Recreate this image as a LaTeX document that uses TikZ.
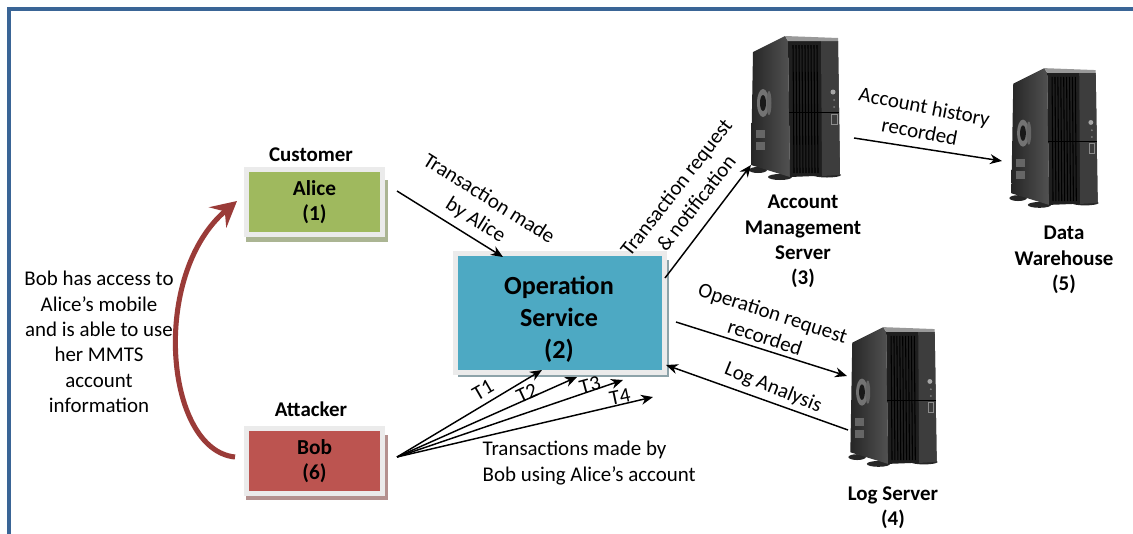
\documentclass[tikz,border=0pt]{standalone}
\usepackage{fontspec}
\setmainfont{Carlito}
\usetikzlibrary{arrows.meta,positioning,calc}
\definecolor{frameblue}{HTML}{3A6596}
\definecolor{boxedge}{HTML}{EBEBEB}
\definecolor{alicegreen}{HTML}{9FB95E}
\definecolor{bobred}{HTML}{BC5450}
\definecolor{opblue}{HTML}{4DA9C3}
\definecolor{curvered}{HTML}{9A3B38}
\tikzset{
	actor/.style={draw=boxedge, line width=4pt, align=center, font=\fontsize{16}{19}\selectfont\bfseries, text=black, anchor=center},
	caption/.style={font=\fontsize{15.7}{19}\selectfont},
	heading/.style={font=\fontsize{15.7}{19}\selectfont\bfseries, align=center},
	link/.style={-{Stealth[length=9pt,width=7.5pt]}, line width=1.1pt}
}
% one server tower, drawn around a centre
\newcommand{\drawtower}[2]{
	\begin{scope}[shift={(#1)}, scale=#2]
		%feet
		\fill[black!85] (-37,63) ellipse (9 and 3);
		\fill[black!85] (-15,70) ellipse (12 and 3);
		\fill[black!85] (32,68) ellipse (14 and 2.5);
		%side
		\shade[left color=black!85, right color=black!68] (-42,-55) -- (-10,-71) -- (-7,-66) -- (-5,70) -- (-44,58) -- cycle;
		%front
		\fill[black!88] (-7,-66) -- (43,-66) -- (45,68) -- (-5,70) -- cycle;
		\fill[black!76] (26,-66) -- (43,-66) -- (45,68) -- (27,69) -- cycle;
		%top edge
		\fill[black!40] (-10,-71) -- (43,-69) -- (43,-66) -- (-7,-66) -- cycle;
		%vents
		\foreach \v in {-2,1,...,24}
		\draw[black, line width=.8pt] (\v,-62) -- (\v+1,66);
		\draw[black, line width=.6pt] (-6,5) -- (44,5);
		%fan and grilles
		\fill[black!55] (-32,-4) ellipse (6 and 14);
		\fill[black!90] (-32,-4) ellipse (3 and 8);
		\fill[black!60] (-26,-4) ellipse (2.5 and 12);
		\fill[black!60] (-39,23) rectangle (-30,31);
		\fill[black!60] (-39,35) rectangle (-30,43);
		%buttons
		\fill[black!35] (38,-15) circle (2.5);
		\fill[black!50] (39,-7) circle (1);
		\fill[black!50] (39,0) circle (1);
		\draw[black!45, line width=.6pt] (36,7) rectangle (42,17);
	\end{scope}
}
\begin{document}
\begin{tikzpicture}[x=.75pt, y=-.75pt, every node/.style={text=black}]
	\useasboundingbox (0,0) rectangle (1133,533);
	\fill[white] (0,0) rectangle (1133,533);
	%frame
	\draw[frameblue, line width=2.6pt] (9,540) -- (9,9) -- (1140,9);
	%shadows
	\fill[alicegreen!50!gray!75] (246,180) rectangle (388,242);
	\fill[bobred!45!gray!75] (246,435) rectangle (388,500);
	\fill[opblue!30!gray!80] (458,260) rectangle (669,377);
	%boxes
	\node[actor, fill=alicegreen, minimum width=102.2pt, minimum height=49pt] (alice) at (314.5,202) {Alice\\(1)};
	\node[actor, fill=bobred, minimum width=102.2pt, minimum height=49pt] (bob) at (314.5,461) {Bob\\(6)};
	\node[actor, fill=opblue, minimum width=156.8pt, minimum height=89.5pt] (service) at (560,313) {};
	\node[align=center, font=\fontsize{19.6}{24}\selectfont\bfseries] (servicetext) at (559,319) {Operation\\Service\\(2)};
	\node[heading] (customer) at (311,155) {Customer};
	\node[heading] (attacker) at (311,409) {Attacker};
	%servers
	\drawtower{795,107}{1}
	\drawtower{1054,137}{.97}
	\drawtower{893,396}{.97}
	\node[heading] (acctext) at (803,241.5) {Account\\Management\\Server\\(3)};
	\node[heading] (dwtext) at (1064,260) {Data\\Warehouse\\(5)};
	\node[heading] (logtext) at (893,508) {Log Server\\(4)};
	%free line ends
	\coordinate (aliceout) at (397,191);
	\coordinate (servicein) at (503,257);
	\coordinate (serviceout) at (665,278);
	\coordinate (accin) at (751,165);
	\coordinate (accout) at (854,138);
	\coordinate (dwin) at (1002,161);
	\coordinate (serviceout2) at (676,322);
	\coordinate (login) at (847,376);
	\coordinate (logout) at (848,430);
	\coordinate (servicein2) at (666,365);
	\coordinate (bobout) at (397,457);
	\coordinate (t1end) at (542,370);
	\coordinate (t2end) at (577,377);
	\coordinate (t3end) at (623,380);
	\coordinate (t4end) at (653,397);
	\coordinate (bobcurve) at (235,457);
	\coordinate (alicecurve) at (237,201);
	%links
	\draw[link] (aliceout) -- (servicein);
	\draw[link] (serviceout) -- (accin);
	\draw[link] (accout) -- (dwin);
	\draw[link] (serviceout2) -- (login);
	\draw[link] (logout) -- (servicein2);
	\draw[link] (bobout) -- (t1end);
	\draw[link] (bobout) -- (t2end);
	\draw[link] (bobout) -- (t3end);
	\draw[link] (bobout) -- (t4end);
	%red curve
	\draw[curvered, line width=3.8pt, -{Stealth[length=19pt,width=20pt,inset=7pt]}] (bobcurve) .. controls (165,450) and (150,275) .. (alicecurve);
	%labels
	\node[caption, align=center] (accessnote) at (99,342) {Bob has access to\\Alice’s mobile\\and is able to use\\her MMTS\\account\\information};
	\node[caption, align=center, rotate=-32] (alicenote) at (482,210) {Transaction made\\by Alice};
	\node[caption, align=center, rotate=52] (requestnote) at (686,195) {Transaction request\\\&\,notification};
	\node[caption, align=center, rotate=-11] (historynote) at (922,119) {Account history\\recorded};
	\node[caption, align=center, rotate=-18] (recordnote) at (769,325) {Operation request\\recorded};
	\node[caption, rotate=-22] (analysisnote) at (773,388) {Log Analysis};
	\node[caption, rotate=30] (tone) at (483,390) {T1};
	\node[caption, rotate=25] (ttwo) at (527,393) {T2};
	\node[caption, rotate=15] (tthree) at (590,385) {T3};
	\node[caption, rotate=12] (tfour) at (620,397) {T4};
	\node[caption, align=left, anchor=west] (bobnote) at (478,463) {Transactions made by\\Bob using Alice’s account};
\end{tikzpicture}
\end{document}
